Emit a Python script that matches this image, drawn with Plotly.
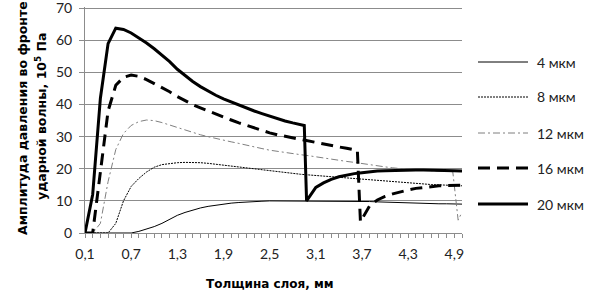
import plotly.graph_objects as go

# ---- data ----
X_BASE = [0.1, 0.2, 0.3, 0.4, 0.5, 0.6, 0.7, 0.8, 0.9, 1.0,
          1.1, 1.2, 1.3, 1.4, 1.5, 1.6, 1.7, 1.8, 1.9, 2.0,
          2.1, 2.2, 2.3, 2.4, 2.5, 2.6, 2.7, 2.8, 2.9, 3.0,
          3.1, 3.2, 3.3, 3.4, 3.5, 3.6, 3.7, 3.8, 3.9, 4.0,
          4.1, 4.2, 4.3, 4.4, 4.5, 4.6, 4.7, 4.8, 4.9, 5.0]

Y_4 = [0, 0, 0, 0, 0, 0, 0, 0.5, 1.2, 2.0,
       3.0, 4.3, 5.5, 6.4, 7.2, 7.8, 8.3, 8.7, 9.0, 9.3,
       9.5, 9.7, 9.8, 9.9, 10.0, 10.0, 10.0, 10.0, 10.0, 10.0,
       10.0, 10.0, 10.0, 10.0, 10.0, 10.0, 9.9, 9.8, 9.7, 9.6,
       9.5, 9.4, 9.3, 9.3, 9.2, 9.2, 9.1, 9.1, 9.1, 9.0]

Y_8 = [0, 0, 0, 0, 3.0, 10.0, 14.5, 17.0, 19.0, 20.5,
       21.3, 21.7, 21.9, 22.0, 22.0, 21.9, 21.7, 21.4, 21.1, 20.8,
       20.5, 20.2, 19.9, 19.6, 19.3, 19.0, 18.8, 18.5, 18.3, 18.1,
       17.9, 17.7, 17.5, 17.3, 17.1, 16.9, 16.7, 16.5, 16.3, 16.1,
       15.9, 15.7, 15.6, 15.4, 15.3, 15.1, 15.0, 14.9, 14.8, 14.7]

X_12 = [0.1, 0.2, 0.3, 0.4, 0.5, 0.6, 0.7, 0.8, 0.9, 1.0,
        1.1, 1.2, 1.3, 1.4, 1.5, 1.6, 1.7, 1.8, 1.9, 2.0,
        2.1, 2.2, 2.3, 2.4, 2.5, 2.6, 2.7, 2.8, 2.9, 3.0,
        3.1, 3.2, 3.3, 3.4, 3.5, 3.6, 3.7, 3.8, 3.9, 4.0,
        4.1, 4.2, 4.3, 4.4, 4.5, 4.6, 4.7, 4.8, 4.88, 4.95, 5.0]
Y_12 = [0, 0, 3.0, 16.0, 26.0, 31.0, 33.5, 34.7, 35.2, 35.0,
        34.4, 33.6, 32.8, 32.0, 31.3, 30.6, 30.0, 29.4, 28.9, 28.4,
        27.9, 27.3, 26.8, 26.3, 25.8, 25.4, 25.0, 24.7, 24.4, 24.1,
        23.7, 23.4, 23.0, 22.6, 22.3, 22.0, 21.6, 21.2, 20.9, 20.6,
        20.3, 20.0, 19.8, 19.6, 19.5, 19.4, 19.3, 19.2, 19.1, 4.0, 6.5]

X_16 = [0.1, 0.2, 0.3, 0.4, 0.5, 0.6, 0.7, 0.8, 0.9, 1.0,
        1.1, 1.2, 1.3, 1.4, 1.5, 1.6, 1.7, 1.8, 1.9, 2.0,
        2.1, 2.2, 2.3, 2.4, 2.5, 2.6, 2.7, 2.8, 2.9, 3.0,
        3.1, 3.2, 3.3, 3.4, 3.5, 3.6, 3.64, 3.68, 3.8, 3.9, 4.0,
        4.1, 4.2, 4.3, 4.4, 4.5, 4.6, 4.7, 4.8, 4.9, 5.0]
Y_16 = [0, 0, 19.0, 38.0, 46.0, 48.5, 49.2, 48.8, 47.8, 46.6,
        45.3, 44.0, 42.5, 41.2, 40.0, 39.0, 38.0, 37.0, 36.0, 35.2,
        34.3, 33.5, 32.7, 32.0, 31.2, 30.6, 30.1, 29.7, 29.3, 28.8,
        28.3, 27.8, 27.3, 26.8, 26.4, 26.0, 25.7, 3.5, 8.5, 10.3, 11.4,
        12.2, 12.9, 13.4, 13.9, 14.2, 14.5, 14.7, 14.8, 14.9, 14.9]

X_20 = [0.1, 0.2, 0.3, 0.4, 0.5, 0.6, 0.7, 0.8, 0.9, 1.0,
        1.1, 1.2, 1.3, 1.4, 1.5, 1.6, 1.7, 1.8, 1.9, 2.0,
        2.1, 2.2, 2.3, 2.4, 2.5, 2.6, 2.7, 2.8, 2.9, 2.95, 2.98,
        3.1, 3.2, 3.3, 3.4, 3.5, 3.6, 3.7, 3.8, 3.9, 4.0,
        4.1, 4.2, 4.3, 4.4, 4.5, 4.6, 4.7, 4.8, 4.9, 5.0]
Y_20 = [0, 12.0, 42.0, 59.0, 63.8, 63.4, 62.3, 60.8, 59.2, 57.4,
        55.5, 53.4, 51.0, 49.0, 47.2, 45.6, 44.2, 42.9, 41.8, 40.8,
        39.8, 38.9, 38.0, 37.2, 36.4, 35.6, 34.9, 34.3, 33.8, 33.5, 10.0,
        14.2, 15.6, 16.7, 17.5, 18.1, 18.5, 18.8, 19.1, 19.3, 19.4,
        19.5, 19.6, 19.6, 19.6, 19.6, 19.6, 19.5, 19.5, 19.4, 19.3]

SERIES_NAMES = ["4 мкм", "8 мкм", "12 мкм", "16 мкм", "20 мкм"]
X_TICKS = [0.1, 0.7, 1.3, 1.9, 2.5, 3.1, 3.7, 4.3, 4.9]
X_TICK_LABELS = ["0,1", "0,7", "1,3", "1,9", "2,5", "3,1", "3,7", "4,3", "4,9"]
Y_TICKS = [0, 10, 20, 30, 40, 50, 60, 70]

X_TITLE = "Толщина слоя, мм"
Y_TITLE_1 = "Амплитуда давления во фронте"
Y_TITLE_2 = "ударной волны, 10<sup>5</sup> Па"

# ---- layout geometry (pixels) ----
W, H = 591, 295
L, R, T, B = 85, 129, 7, 62
PW, PH = W - L - R, H - T - B


def px_x(px):
    return (px - L) / PW


def px_y(py):
    return (H - B - py) / PH


# ---- styles ----
styles = [
    dict(color="black", width=1, dash="solid"),
    dict(color="black", width=1, dash="2px,1px"),
    dict(color="#7f7f7f", width=1, dash="7px,3px,2px,3px"),
    dict(color="black", width=3, dash="12px,7px"),
    dict(color="black", width=3, dash="solid"),
]
xs = [X_BASE, X_BASE, X_12, X_16, X_20]
ys = [Y_4, Y_8, Y_12, Y_16, Y_20]

fig = go.Figure()
for name, x, y, st in zip(SERIES_NAMES, xs, ys, styles):
    fig.add_trace(go.Scatter(x=x, y=y, mode="lines", name=name,
                             line=st, cliponaxis=False, showlegend=False))

tick_font = dict(family="Lato, Carlito, sans-serif", size=14, color="#222")
title_font_x = dict(family="DejaVu Sans, Verdana, sans-serif", size=12, color="black")
title_font_y = dict(family="DejaVu Sans, Verdana, sans-serif", size=12.5, color="black")
legend_font = dict(family="Lato, Carlito, sans-serif", size=14, color="#222")

# manual legend (line samples + labels) to the right of the plot
legend_rows = [62, 97, 133, 168, 204]
shapes = []
annotations = []
for name, st, ry in zip(SERIES_NAMES, styles, legend_rows):
    shapes.append(dict(type="line", xref="paper", yref="paper",
                       x0=px_x(478), x1=px_x(528), y0=px_y(ry), y1=px_y(ry),
                       line=st))
    annotations.append(dict(xref="paper", yref="paper", x=px_x(535), y=px_y(ry),
                            xanchor="left", yanchor="middle", text=name,
                            showarrow=False, font=legend_font))

# axis titles
annotations.append(dict(xref="paper", yref="paper", x=px_x(270), y=px_y(284),
                        xanchor="center", yanchor="middle",
                        text="<b>" + X_TITLE + "</b>", showarrow=False,
                        font=title_font_x))
annotations.append(dict(xref="paper", yref="paper", x=px_x(22), y=px_y(118),
                        xanchor="center", yanchor="middle", textangle=-90,
                        text="<b>" + Y_TITLE_1 + "</b>", showarrow=False,
                        font=title_font_y))
annotations.append(dict(xref="paper", yref="paper", x=px_x(41), y=px_y(117),
                        xanchor="center", yanchor="middle", textangle=-90,
                        text="<b>" + Y_TITLE_2 + "</b>", showarrow=False,
                        font=title_font_y))

fig.update_layout(
    width=W, height=H,
    margin=dict(l=L, r=R, t=T, b=B),
    paper_bgcolor="white", plot_bgcolor="white",
    showlegend=False,
    shapes=shapes,
    annotations=annotations,
    xaxis=dict(range=[0.1, 5.0], tickvals=X_TICKS, ticktext=X_TICK_LABELS,
               automargin=False, ticklabelstandoff=4,
               showgrid=False, zeroline=False, showline=True, linecolor="#8c8c8c",
               ticks="outside", ticklen=4, tickcolor="#8c8c8c", tickfont=tick_font,
               minor=dict(dtick=0.1, tick0=0.1, ticks="outside", ticklen=4,
                          tickcolor="#8c8c8c", showgrid=False)),
    yaxis=dict(range=[0, 70.4], tickvals=Y_TICKS, showgrid=True, gridcolor="#8c8c8c",
               automargin=False, ticklabelstandoff=4, ticklabeloverflow="allow",
               gridwidth=1, zeroline=False, showline=True, linecolor="#8c8c8c",
               ticks="outside", ticklen=5, tickcolor="#8c8c8c", tickfont=tick_font),
)

fig.write_html("out.html",
               config={"displayModeBar": False, "staticPlot": True},
               post_script="document.body.style.margin='0';"
                           "document.body.style.padding='0';")
